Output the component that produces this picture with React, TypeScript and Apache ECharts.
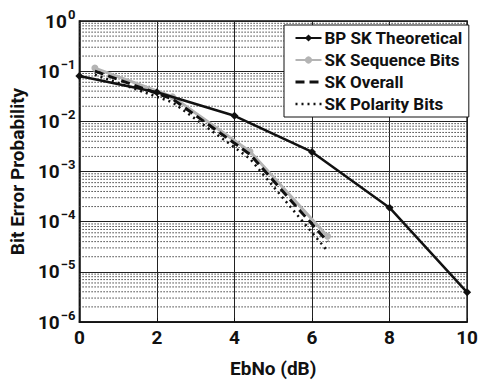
import React, { useEffect, useRef } from "react";
import * as echarts from "echarts";

const bpX = [0, 2, 4, 6, 8, 10];
const bpY = [0.08, 0.038, 0.0129, 0.00245, 1.9e-4, 3.9e-6];
const skX = [0.4, 2.4, 4.4, 6.4];
const seqY = [0.115, 0.031, 0.0025, 5.1e-5];
const overallY = [0.1, 0.028, 0.0022, 4.0e-5];
const polY = [0.085, 0.024, 0.0018, 2.6e-5];
const seriesNames = ["BP SK Theoretical", "SK Sequence Bits", "SK Overall", "SK Polarity Bits"];
const decades = [-6, -5, -4, -3, -2, -1];
const minorMultipliers = [2, 3, 4, 5, 6, 7, 8, 9];

const FONT = "Roboto, 'Liberation Sans', Arial, sans-serif";

const dashOverall = [9, 5];
const dashPolarity = [2, 4];

function zip(xs: number[], ys: number[]) {
  return xs.map((x, i) => [x, ys[i]]);
}

export default function App() {
  const ref = useRef<HTMLDivElement>(null);
  useEffect(() => {
    if (!ref.current) return;
    const chart = echarts.init(ref.current, null, { renderer: "svg" });
    const minorVals: number[][] = [];
    decades.forEach((d) => {
      minorMultipliers.forEach((m) => {
        minorVals.push([0, m * Math.pow(10, d)]);
      });
    });
    chart.setOption({
      animation: false,
      backgroundColor: "#fff",
      grid: {
        left: 73,
        top: 21,
        right: 10,
        bottom: 50,
        show: true,
        borderColor: "#111",
        borderWidth: 1.5,
        backgroundColor: "transparent",
      },
      legend: {
        orient: "vertical",
        left: 284,
        top: 25,
        backgroundColor: "#fff",
        borderColor: "#111",
        borderWidth: 1,
        borderRadius: 0,
        padding: [4, 6, 4, 10],
        itemGap: 4,
        itemWidth: 26,
        itemHeight: 9,
        data: [
          { name: seriesNames[0] },
          { name: seriesNames[1] },
          {
            name: seriesNames[2],
            itemStyle: { opacity: 0 },
            lineStyle: { type: dashOverall, width: 3, color: "#111" },
          },
          {
            name: seriesNames[3],
            itemStyle: { opacity: 0 },
            lineStyle: { type: dashPolarity, width: 2.5, color: "#111" },
          },
        ],
        textStyle: {
          fontFamily: FONT,
          fontWeight: "bold",
          fontSize: 17,
          lineHeight: 18,
          color: "#111",
          padding: [0, 0, 0, -2],
        },
      },
      xAxis: {
        type: "value",
        min: 0,
        max: 10,
        interval: 2,
        name: "EbNo (dB)",
        nameLocation: "middle",
        nameGap: 37,
        nameTextStyle: { fontFamily: FONT, fontWeight: "bold", fontSize: 19, color: "#111" },
        axisLine: { show: true, lineStyle: { color: "#111", width: 1.5 } },
        axisTick: { show: true, inside: true, length: 4, lineStyle: { color: "#111" } },
        axisLabel: { fontFamily: FONT, fontWeight: "bold", fontSize: 19, color: "#111", margin: 6 },
        splitLine: { show: true, lineStyle: { color: "#222", width: 1 } },
      },
      yAxis: {
        type: "log",
        logBase: 10,
        min: 1e-6,
        max: 1,
        name: "Bit Error Probability",
        nameLocation: "middle",
        nameGap: 46,
        nameTextStyle: { fontFamily: FONT, fontWeight: "bold", fontSize: 19, color: "#111" },
        axisLine: { show: true, lineStyle: { color: "#111", width: 1.5 } },
        axisTick: { show: false },
        axisLabel: {
          margin: 4,
          formatter: (v: number) => {
            const e = Math.round(Math.log10(v));
            const s = e < 0 ? "\u2212" + Math.abs(e) : String(e);
            return "{b|10}{s|" + s + "}";
          },
          rich: {
            b: { fontFamily: FONT, fontWeight: "bold", fontSize: 19, color: "#111" },
            s: { fontFamily: FONT, fontWeight: "bold", fontSize: 13, color: "#111", padding: [0, 0, 14, 1] },
          },
        },
        splitLine: { show: true, lineStyle: { color: "#222", width: 1 } },
      },
      series: [
        {
          name: "minor",
          type: "custom",
          silent: true,
          data: minorVals,
          z: 1,
          renderItem: (params: any, api: any) => {
            const v = api.value(1);
            const p1 = api.coord([0, v]);
            const p2 = api.coord([10, v]);
            return {
              type: "line",
              shape: { x1: p1[0], y1: p1[1], x2: p2[0], y2: p2[1] },
              style: { stroke: "#444", lineWidth: 1, lineDash: [1.5, 1.5] },
            };
          },
        },
        {
          name: seriesNames[3],
          type: "line",
          data: zip(skX, polY),
          showSymbol: false,
          symbol: "none",
          z: 3,
          lineStyle: { color: "#111", width: 2.5, type: dashPolarity },
          itemStyle: { color: "#111" },
        },
        {
          name: seriesNames[2],
          type: "line",
          data: zip(skX, overallY),
          showSymbol: false,
          symbol: "none",
          z: 3,
          lineStyle: { color: "#111", width: 3, type: dashOverall },
          itemStyle: { color: "#111" },
        },
        {
          name: seriesNames[1],
          type: "line",
          data: zip(skX, seqY),
          symbol: "circle",
          symbolSize: 7,
          z: 2,
          lineStyle: { color: "#b4b4b4", width: 3 },
          itemStyle: { color: "#b4b4b4" },
        },
        {
          name: seriesNames[0],
          type: "line",
          data: zip(bpX, bpY),
          symbol: "diamond",
          symbolSize: 8,
          z: 4,
          lineStyle: { color: "#111", width: 2.5 },
          itemStyle: { color: "#111" },
        },
      ],
    });
    return () => chart.dispose();
  }, []);
  return <div ref={ref} style={{ width: 481, height: 383, position: "absolute", left: 0, top: 0 }} />;
}
